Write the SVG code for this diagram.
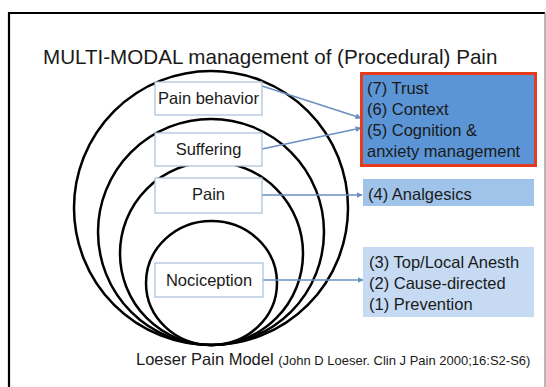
<svg xmlns="http://www.w3.org/2000/svg" width="546" height="387" viewBox="0 0 546 387">
<style>
text{font-family:"Liberation Sans",Arial,sans-serif;fill:#1a1a1a}
.t{font-size:16.5px}
.ring{fill:none;stroke:#000;stroke-width:2.5}
.lbox{fill:#fff;stroke:#a9bfd8;stroke-width:1.2}
.conn{stroke:#6b8fbf;stroke-width:1.5;fill:none;marker-end:url(#ah)}
</style>
<defs>
<marker id="ah" viewBox="0 0 10 10" refX="9" refY="5" markerWidth="6" markerHeight="6" markerUnits="userSpaceOnUse" orient="auto">
<path d="M0,0 L10,5 L0,10 z" fill="#6b8fbf"/>
</marker>
</defs>
<rect x="0" y="0" width="546" height="387" fill="#fff"/>
<path d="M9,390 V13 H545" fill="none" stroke="#000" stroke-width="2.2"/>
<line x1="545" y1="13" x2="545" y2="390" stroke="#888" stroke-width="1.2"/>
<text x="43" y="64" style="font-size:20.6px">MULTI-MODAL management of (Procedural) Pain</text>
<g id="rings">
<circle class="ring" cx="211" cy="208" r="137"/>
<circle class="ring" cx="211" cy="232" r="113"/>
<circle class="ring" cx="211.5" cy="253.5" r="91.5"/>
<ellipse class="ring" cx="211.5" cy="283" rx="65.5" ry="62"/>
</g>
<g id="connectors">
<line class="conn" x1="262" y1="86" x2="361" y2="118"/>
<line class="conn" x1="262" y1="149" x2="361" y2="128"/>
<line class="conn" x1="262" y1="195" x2="362" y2="195"/>
<line class="conn" x1="263" y1="280" x2="363" y2="280"/>
</g>
<g id="pain-behavior">
<rect class="lbox" x="155" y="82" width="107" height="33"/>
<text class="t" x="208.5" y="104" text-anchor="middle">Pain behavior</text>
</g>
<g id="suffering">
<rect class="lbox" x="155" y="133" width="107" height="33"/>
<text class="t" x="208.5" y="155" text-anchor="middle">Suffering</text>
</g>
<g id="pain">
<rect class="lbox" x="155" y="178" width="107" height="35"/>
<text class="t" x="208.5" y="200" text-anchor="middle">Pain</text>
</g>
<g id="nociception">
<rect class="lbox" x="155" y="263" width="108" height="34"/>
<text class="t" x="209" y="286" text-anchor="middle">Nociception</text>
</g>
<g id="box-567">
<rect x="361.5" y="73.5" width="174" height="92" fill="#5b95d5" stroke="#e63c1e" stroke-width="3"/>
<text class="t" x="367" y="94">(7) Trust</text>
<text class="t" x="367" y="115">(6) Context</text>
<text class="t" x="367" y="136">(5) Cognition &amp;</text>
<text class="t" x="367" y="157">anxiety management</text>
</g>
<g id="box-4">
<rect x="363" y="179" width="171" height="27" fill="#a0c3ea"/>
<text class="t" x="368" y="200">(4) Analgesics</text>
</g>
<g id="box-123">
<rect x="363" y="247" width="171" height="70" fill="#c6dbf3"/>
<text class="t" x="369" y="268">(3) Top/Local Anesth</text>
<text class="t" x="369" y="289">(2) Cause-directed</text>
<text class="t" x="369" y="310">(1) Prevention</text>
</g>
<text x="136" y="365" class="t">Loeser Pain Model <tspan style="font-size:13px">(John D Loeser. Clin J Pain 2000;16:S2-S6)</tspan></text>
</svg>
